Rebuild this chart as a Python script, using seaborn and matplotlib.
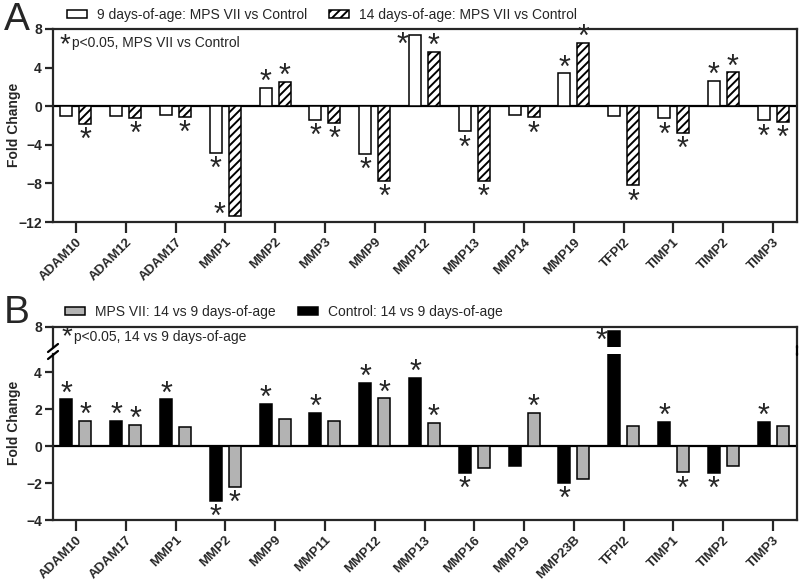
import numpy as np
import pandas as pd
import seaborn as sns
import matplotlib
matplotlib.use('Agg')
from matplotlib import pyplot as plt
from matplotlib.patches import Patch
from matplotlib.lines import Line2D

# panel A: MPS VII vs Control at 9 and 14 days-of-age
genes_a = ['ADAM10', 'ADAM12', 'ADAM17', 'MMP1', 'MMP2', 'MMP3', 'MMP9', 'MMP12',
           'MMP13', 'MMP14', 'MMP19', 'TFPI2', 'TIMP1', 'TIMP2', 'TIMP3']
day9 = [-1.0, -1.0, -0.9, -4.8, 1.9, -1.4, -4.95, 7.4, -2.6, -0.95, 3.4, -1.05, -1.25, 2.6, -1.45]
day14 = [-1.8, -1.2, -1.1, -11.35, 2.5, -1.7, -7.7, 5.6, -7.7, -1.15, 6.6, -8.2, -2.75, 3.5, -1.65]
sig9 = [0, 0, 0, 1, 1, 1, 1, 1, 1, 0, 1, 0, 1, 1, 1]
sig14 = [1, 1, 1, 1, 1, 1, 1, 1, 1, 1, 1, 1, 1, 1, 1]
lab9 = '9 days-of-age: MPS VII vs Control'
lab14 = '14 days-of-age: MPS VII vs Control'

# panel B: 14 vs 9 days-of-age
genes_b = ['ADAM10', 'ADAM17', 'MMP1', 'MMP2', 'MMP9', 'MMP11', 'MMP12', 'MMP13',
           'MMP16', 'MMP19', 'MMP23B', 'TFPI2', 'TIMP1', 'TIMP2', 'TIMP3']
control = [2.55, 1.37, 2.55, -2.95, 2.3, 1.8, 3.44, 3.7, -1.45, -1.07, -2.0, 7.6, 1.33, -1.45, 1.33]
mps = [1.37, 1.15, 1.05, -2.2, 1.47, 1.37, 2.6, 1.27, -1.2, 1.8, -1.8, 1.1, -1.42, -1.07, 1.1]
sig_ctrl = [1, 1, 1, 1, 1, 1, 1, 1, 1, 0, 1, 1, 1, 1, 1]
sig_mps = [1, 1, 0, 1, 0, 0, 1, 1, 0, 1, 0, 0, 1, 0, 0]
lab_mps = 'MPS VII: 14 vs 9 days-of-age'
lab_ctrl = 'Control: 14 vs 9 days-of-age'

sns.set_style('ticks')
plt.rcParams['font.family'] = ['Liberation Sans', 'DejaVu Sans']
plt.rcParams['hatch.linewidth'] = 1.4
plt.rcParams['hatch.color'] = 'black'

GREY = '#b3b3b3'
STAR = 22
W, H = 800, 585
fig = plt.figure(figsize=(8, 5.85), dpi=100)

def px(l, t, r, b):
    return [l / W, 1 - b / H, (r - l) / W, (b - t) / H]

axA = fig.add_axes(px(53, 29, 797, 222))
axB = fig.add_axes(px(53, 354, 797, 520))
axBt = fig.add_axes(px(53, 327, 797, 347))

dfA = pd.DataFrame({'gene': genes_a * 2, 'fc': day9 + day14,
                    'grp': [lab9] * len(genes_a) + [lab14] * len(genes_a)})
dfB = pd.DataFrame({'gene': genes_b * 2, 'fc': control + mps,
                    'grp': [lab_ctrl] * len(genes_b) + [lab_mps] * len(genes_b)})

bar_kw = dict(x='gene', y='fc', hue='grp', width=0.76, gap=0.37,
              edgecolor='black', linewidth=1.1, legend=False, errorbar=None)
sns.barplot(data=dfA, ax=axA, palette={lab9: 'white', lab14: 'white'},
            hue_order=[lab9, lab14], **bar_kw)
for p in axA.containers[1]:
    p.set_hatch('////')
for a in (axB, axBt):
    sns.barplot(data=dfB, ax=a, palette={lab_ctrl: 'black', lab_mps: GREY},
                hue_order=[lab_ctrl, lab_mps], **bar_kw)

# asterisk glyph centre sits ~0.4 em above the baseline (as rendered)
LIFT = 0.40

def star(ax, x, y, dx_px, dy_px, size=STAR):
    # dx/dy: where the glyph centre should be, in pixels from (x, y)
    ax.annotate('*', xy=(x, y), xytext=(dx_px / 1.389, dy_px / 1.389 - LIFT * size),
                textcoords='offset points', ha='center', va='baseline', fontsize=size)

def stars(ax, cont, sig, lo, hi):
    for p, s in zip(cont, sig):
        if not s:
            continue
        x = p.get_x() + p.get_width() / 2
        if p.get_y() < 0:
            v = p.get_y()
        else:
            v = p.get_y() + p.get_height()
        if v > hi - 1.0:
            star(ax, p.get_x(), v, -7, -7)
        elif v < lo + 1.0:
            star(ax, p.get_x(), v, -9, 4)
        elif v >= 0:
            star(ax, x, v, 0, 9)
        else:
            star(ax, x, v, 0, -13)

stars(axA, axA.containers[0], sig9, -12, 8)
stars(axA, axA.containers[1], sig14, -12, 8)
# panel B: big values live on the upper (broken) axis
low = [v < 5 for v in control]
stars(axB, [p for p, k in zip(axB.containers[0], low) if k], [s for s, k in zip(sig_ctrl, low) if k], -4, 50)
stars(axB, axB.containers[1], sig_mps, -4, 50)
stars(axBt, [p for p, k in zip(axBt.containers[0], low) if not k], [s for s, k in zip(sig_ctrl, low) if not k], 0, 8.5)

for ax in (axA, axB, axBt):
    ax.set_xlim(-0.46, 14.48)
    ax.set_xlabel('')
    ax.set_ylabel('')
    for sp in ax.spines.values():
        sp.set_linewidth(1.6)
    ax.tick_params(axis='both', direction='out', width=1.6, length=6, labelsize=10, pad=2)

axA.set_ylim(-12, 8)
axA.set_yticks([-12, -8, -4, 0, 4, 8])
axA.axhline(0, color='black', lw=1.6, zorder=0.5)
axB.set_ylim(-4, 5)
axB.set_yticks([-4, -2, 0, 2, 4])
axB.axhline(0, color='black', lw=1.6, zorder=0.5)
axBt.set_ylim(6, 8)
axBt.set_yticks([8])
axBt.set_xticks([])
axB.spines['top'].set_visible(False)
axBt.spines['bottom'].set_visible(False)
for ax in (axA, axB, axBt):
    for t in ax.get_yticklabels():
        t.set_fontweight('bold')

for ax in (axA, axB):
    ax.tick_params(axis='x', length=8)
    plt.setp(ax.get_xticklabels(), rotation=45, ha='right', rotation_mode='anchor',
             fontweight='bold', fontsize=9.5)

# axis break marks and the joined right spine
for yy in (348, 355):
    fig.add_artist(Line2D([48 / W, 58 / W], [1 - (yy + 4) / H, 1 - (yy - 4) / H],
                          color='black', lw=1.6))
fig.add_artist(Line2D([797 / W, 797 / W], [1 - 355 / H, 1 - 346 / H], color='black', lw=1.6))

# labels
fig.text(4 / W, 1 - 30 / H, 'A', fontsize=28, va='baseline', ha='left')
fig.text(4 / W, 1 - 323 / H, 'B', fontsize=28, va='baseline', ha='left')
fig.text(14 / W, 1 - 125 / H, 'Fold Change', rotation=90, fontsize=10, fontweight='bold',
         va='center', ha='center')
fig.text(14 / W, 1 - 423 / H, 'Fold Change', rotation=90, fontsize=10, fontweight='bold',
         va='center', ha='center')
star(axA, -0.46, 8, 12, -12, size=20)
fig.text(72 / W, 1 - 43 / H, 'p<0.05, MPS VII vs Control', fontsize=10, va='center')
star(axBt, -0.46, 8, 14, -6, size=20)
fig.text(74 / W, 1 - 337 / H, 'p<0.05, 14 vs 9 days-of-age', fontsize=10, va='center')

leg_kw = dict(loc='center left', ncol=2, frameon=False, fontsize=10, handlelength=1.45,
              handleheight=0.55, handletextpad=0.7, columnspacing=1.6,
              borderaxespad=0, borderpad=0)
hA = [Patch(facecolor='white', edgecolor='black', lw=1.1),
      Patch(facecolor='white', edgecolor='black', lw=1.1, hatch='////')]
fig.legend(hA, [lab9, lab14], bbox_to_anchor=(67 / W, 1 - 15 / H), **leg_kw)
hB = [Patch(facecolor=GREY, edgecolor='black', lw=1.1),
      Patch(facecolor='black', edgecolor='black', lw=1.1)]
fig.legend(hB, [lab_mps, lab_ctrl], bbox_to_anchor=(65 / W, 1 - 312 / H), **leg_kw)

fig.savefig('out.png', dpi=100)
